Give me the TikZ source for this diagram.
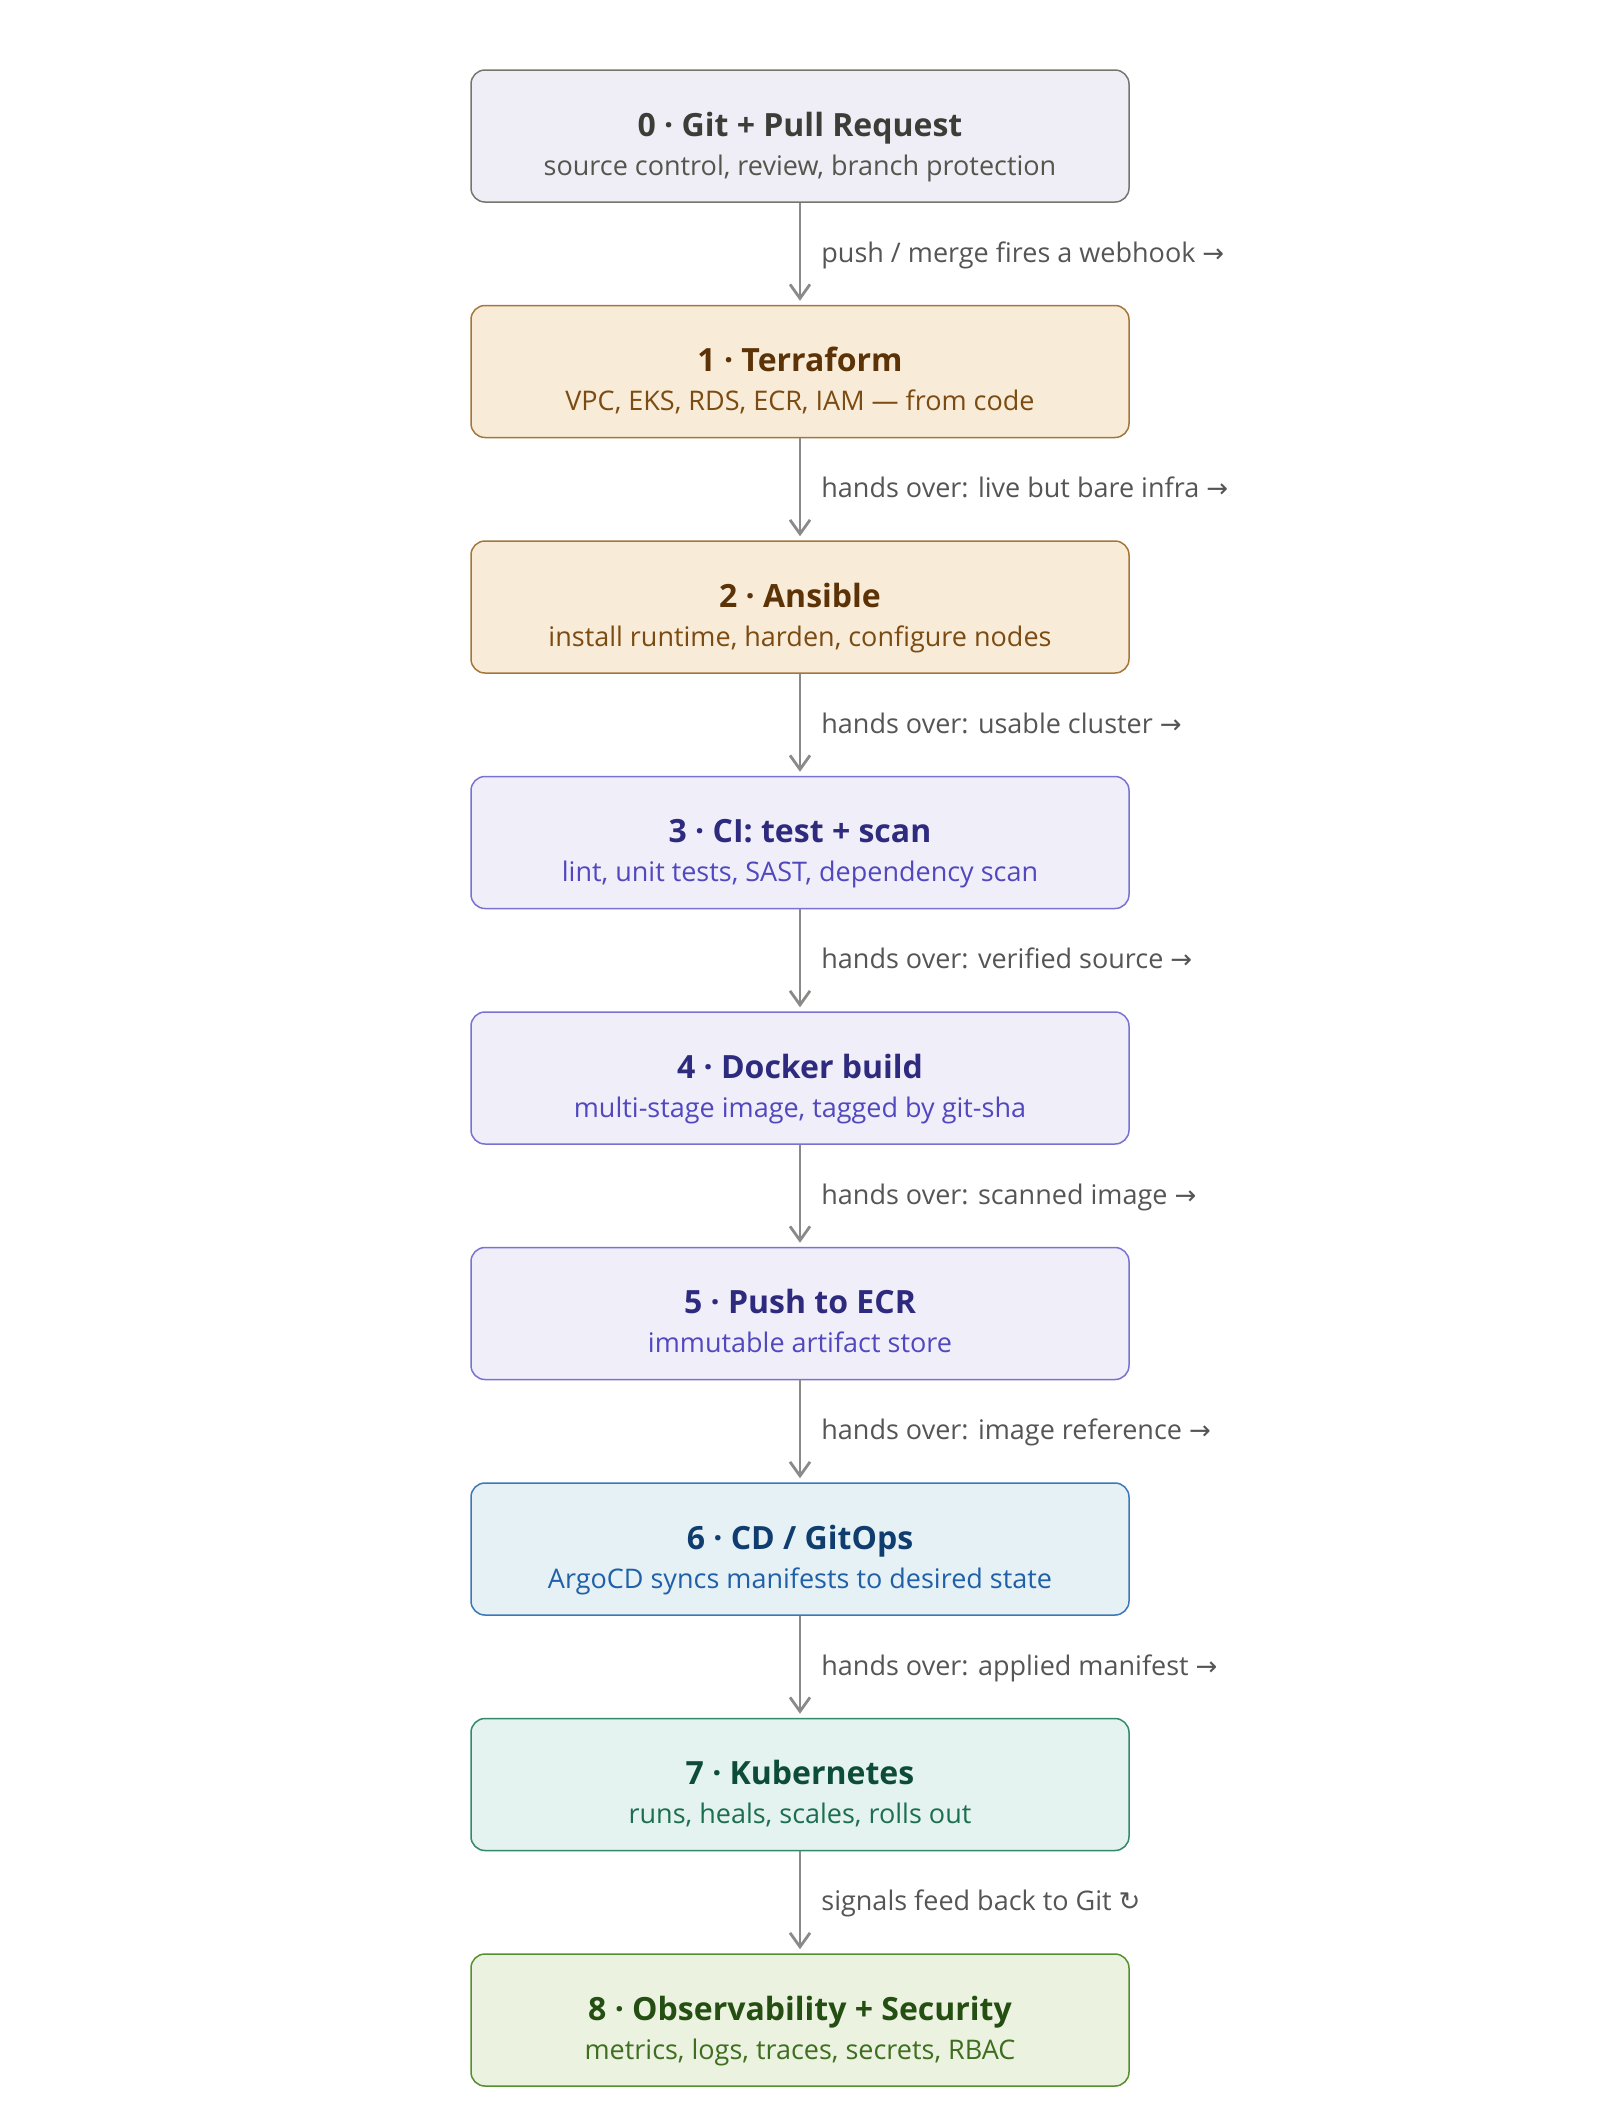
\documentclass[tikz,border=0pt]{standalone}
\usepackage{fontspec}
\setmainfont{Open Sans}
\newfontfamily\symfont{DejaVu Sans}
\usetikzlibrary{positioning,arrows.meta}

\definecolor{gitfill}{HTML}{EFEEF6}
\definecolor{gitline}{HTML}{76766F}
\definecolor{gittext}{HTML}{3D3D38}
\definecolor{gitsub}{HTML}{55554E}
\definecolor{infrafill}{HTML}{F8ECD9}
\definecolor{infraline}{HTML}{A5763A}
\definecolor{infratext}{HTML}{5B3306}
\definecolor{infrasub}{HTML}{7B4B12}
\definecolor{cifill}{HTML}{EFEEF9}
\definecolor{ciline}{HTML}{7A72D2}
\definecolor{citext}{HTML}{2E2A7D}
\definecolor{cisub}{HTML}{5148BF}
\definecolor{cdfill}{HTML}{E6F1F5}
\definecolor{cdline}{HTML}{3C78B8}
\definecolor{cdtext}{HTML}{0F3D6F}
\definecolor{cdsub}{HTML}{1F60A8}
\definecolor{kfill}{HTML}{E4F2F0}
\definecolor{kline}{HTML}{338A68}
\definecolor{ktext}{HTML}{0D4C36}
\definecolor{ksub}{HTML}{1B6F4F}
\definecolor{obsfill}{HTML}{EBF2DF}
\definecolor{obsline}{HTML}{55902F}
\definecolor{obstext}{HTML}{254F12}
\definecolor{obssub}{HTML}{3E6E20}
\definecolor{flowgray}{HTML}{8A8A88}
\definecolor{labelgray}{HTML}{555555}

\tikzset{
  stagebox/.style={draw, rounded corners=7pt, line width=0.75pt,
    minimum width=329pt, minimum height=66pt, inner sep=0pt},
  stagetitle/.style={anchor=base, inner sep=0pt,
    font=\fontsize{16}{19}\selectfont\bfseries},
  stagesub/.style={anchor=base, inner sep=0pt,
    font=\fontsize{13.5}{16}\selectfont},
  flow/.style={draw=flowgray, line width=1.4pt, shorten >=2pt,
    -{Straight Barb[length=7pt,width=10pt]}},
  handover/.style={anchor=base west, inner sep=0pt, xshift=10pt,
    yshift=-4.25pt, text=labelgray, font=\fontsize{13.5}{16}\selectfont}
}
\newcommand{\sym}[1]{{\symfont\fontsize{13}{15}\selectfont #1}}

\begin{document}
\begin{tikzpicture}[node distance=51pt]
  \useasboundingbox (0,0) rectangle (800pt,-1058.5pt);

  \node[stagebox, fill=gitfill, draw=gitline] (git) at (400pt,-68pt) {};
  \node[stagebox, fill=infrafill, draw=infraline, below=of git] (tf) {};
  \node[stagebox, fill=infrafill, draw=infraline, below=of tf] (ansible) {};
  \node[stagebox, fill=cifill, draw=ciline, below=of ansible] (ci) {};
  \node[stagebox, fill=cifill, draw=ciline, below=of ci] (docker) {};
  \node[stagebox, fill=cifill, draw=ciline, below=of docker] (ecr) {};
  \node[stagebox, fill=cdfill, draw=cdline, below=of ecr] (cd) {};
  \node[stagebox, fill=kfill, draw=kline, below=of cd] (k8s) {};
  \node[stagebox, fill=obsfill, draw=obsline, below=of k8s] (obs) {};

  % titles and one-line summaries
  \node[stagetitle, text=gittext] (git-t) at (git.center) {0 · Git + Pull Request};
  \node[stagesub, text=gitsub] (git-s) at ([yshift=-19.5pt]git.center) {source control, review, branch protection};
  \node[stagetitle, text=infratext] (tf-t) at (tf.center) {1 · Terraform};
  \node[stagesub, text=infrasub] (tf-s) at ([yshift=-19.5pt]tf.center) {VPC, EKS, RDS, ECR, IAM — from code};
  \node[stagetitle, text=infratext] (ansible-t) at (ansible.center) {2 · Ansible};
  \node[stagesub, text=infrasub] (ansible-s) at ([yshift=-19.5pt]ansible.center) {install runtime, harden, configure nodes};
  \node[stagetitle, text=citext] (ci-t) at (ci.center) {3 · CI: test + scan};
  \node[stagesub, text=cisub] (ci-s) at ([yshift=-19.5pt]ci.center) {lint, unit tests, SAST, dependency scan};
  \node[stagetitle, text=citext] (docker-t) at (docker.center) {4 · Docker build};
  \node[stagesub, text=cisub] (docker-s) at ([yshift=-19.5pt]docker.center) {multi-stage image, tagged by git-sha};
  \node[stagetitle, text=citext] (ecr-t) at (ecr.center) {5 · Push to ECR};
  \node[stagesub, text=cisub] (ecr-s) at ([yshift=-19.5pt]ecr.center) {immutable artifact store};
  \node[stagetitle, text=cdtext] (cd-t) at (cd.center) {6 · CD / GitOps};
  \node[stagesub, text=cdsub] (cd-s) at ([yshift=-19.5pt]cd.center) {ArgoCD syncs manifests to desired state};
  \node[stagetitle, text=ktext] (k8s-t) at (k8s.center) {7 · Kubernetes};
  \node[stagesub, text=ksub] (k8s-s) at ([yshift=-19.5pt]k8s.center) {runs, heals, scales, rolls out};
  \node[stagetitle, text=obstext] (obs-t) at (obs.center) {8 · Observability + Security};
  \node[stagesub, text=obssub] (obs-s) at ([yshift=-19.5pt]obs.center) {metrics, logs, traces, secrets, RBAC};

  % hand-overs
  \draw[flow] (git) -- (tf) node[midway, handover] (h0) {push / merge fires a webhook \sym{→}};
  \draw[flow] (tf) -- (ansible) node[midway, handover] (h1) {hands over: live but bare infra \sym{→}};
  \draw[flow] (ansible) -- (ci) node[midway, handover] (h2) {hands over: usable cluster \sym{→}};
  \draw[flow] (ci) -- (docker) node[midway, handover] (h3) {hands over: verified source \sym{→}};
  \draw[flow] (docker) -- (ecr) node[midway, handover] (h4) {hands over: scanned image \sym{→}};
  \draw[flow] (ecr) -- (cd) node[midway, handover] (h5) {hands over: image reference \sym{→}};
  \draw[flow] (cd) -- (k8s) node[midway, handover] (h6) {hands over: applied manifest \sym{→}};
  \draw[flow] (k8s) -- (obs) node[midway, handover] (h7) {signals feed back to Git \sym{↻}};
\end{tikzpicture}
\end{document}
